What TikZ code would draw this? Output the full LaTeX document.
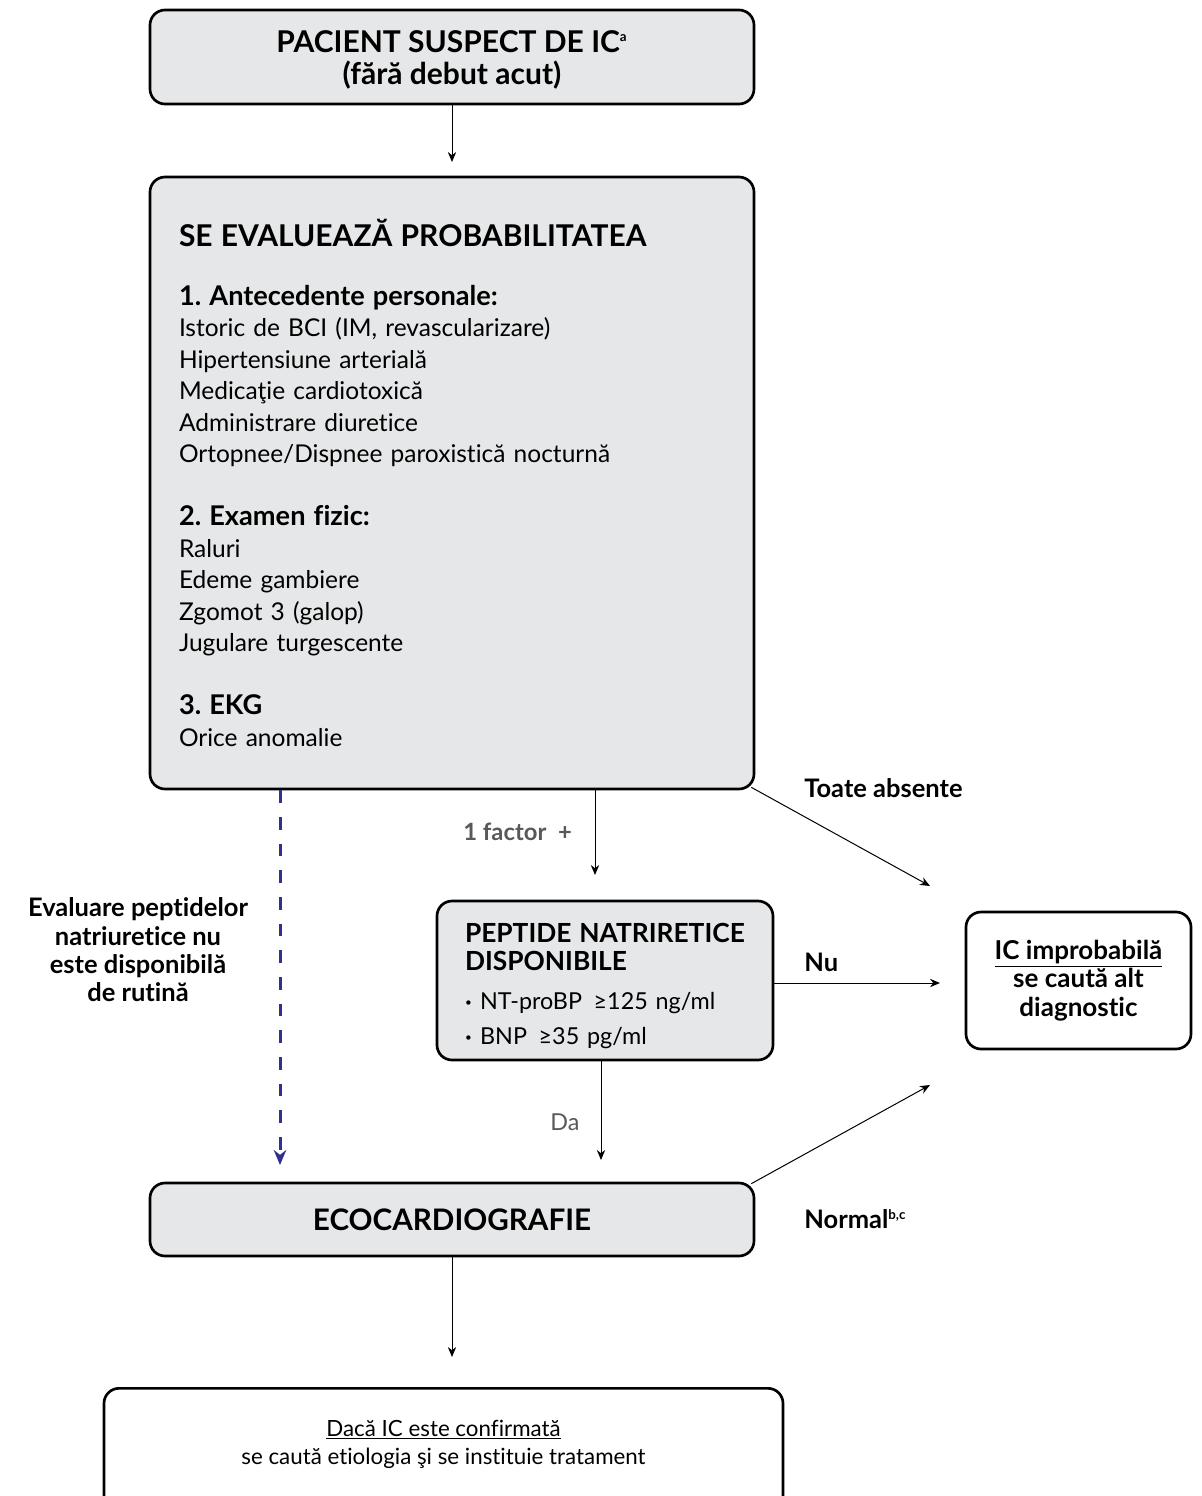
\documentclass[tikz,border=0pt]{standalone}
\usepackage{fontspec}
\setmainfont{Lato}[Ligatures={NoCommon,NoContextual}]
\usetikzlibrary{arrows.meta,positioning}
\definecolor{boxgray}{HTML}{E6E7E8}
\definecolor{navy}{HTML}{2E3192}
\definecolor{lblgray}{HTML}{58595B}
\newcommand{\smallbullet}{\raisebox{0.3ex}{\scriptsize •}\hspace{5pt}}
\tikzset{
  box/.style={draw=black, line width=1.6pt, rounded corners=9pt, align=center},
  greybox/.style={box, fill=boxgray},
  whitebox/.style={box, fill=white},
  arr/.style={-{Stealth[length=6pt,width=5pt]}, line width=0.6pt},
  lbl/.style={font=\bfseries\fontsize{15.3}{17}\selectfont, inner sep=0pt},
  bodytext/.style={font=\fontsize{14.7}{18.9}\selectfont},
}
\frenchspacing
\begin{document}
\begin{tikzpicture}[x=0.6pt,y=-0.6pt]
  \useasboundingbox (0,0) rectangle (1202,1496);
  \clip (0,0) rectangle (1202,1496);
  % boxes
  \node[greybox, minimum width=362.4pt, minimum height=56.4pt,
        font=\bfseries\fontsize{18}{19.2}\selectfont] (suspect) at (452,57)
    {\rule{0pt}{16.5pt}PACIENT SUSPECT DE IC\textsuperscript{\footnotesize a}\\(fără debut acut)};
  \node[greybox, bodytext, align=left, minimum height=367.2pt,
        text width=327.6pt, inner xsep=17.4pt] (eval) at (452,483)
    {\textbf{\fontsize{18}{19}\selectfont SE EVALUEAZĂ PROBABILITATEA}\\[16pt]
     \textbf{\fontsize{16.3}{18.9}\selectfont 1. Antecedente personale:}\\
     Istoric de BCI (IM, revascularizare)\\
     Hipertensiune arterială\\
     Medicaţie cardiotoxică\\
     Administrare diuretice\\
     Ortopnee/Dispnee paroxistică nocturnă\\[18.9pt]
     \textbf{\fontsize{16.3}{18.9}\selectfont 2. Examen fizic:}\\
     Raluri\\
     Edeme gambiere\\
     Zgomot 3 (galop)\\
     Jugulare turgescente\\[18.9pt]
     \textbf{\fontsize{16.3}{18.9}\selectfont 3. EKG}\\
     Orice anomalie};
  \node[greybox, align=left, minimum width=201.6pt, minimum height=95.4pt,
        text width=168pt, inner xsep=16.8pt, font=\fontsize{14}{17}\selectfont] (peptide) at (605,980.5)
    {\textbf{\fontsize{15.8}{17}\selectfont \rule{0pt}{18pt}PEPTIDE NATRIRETICE}\\
     \textbf{\fontsize{15.8}{17}\selectfont DISPONIBILE}\\[6.5pt]
     \smallbullet NT-proBP\, ≥125 ng/ml\\[4pt]
     \smallbullet BNP\, ≥35 pg/ml};
  \node[whitebox, minimum width=135pt, minimum height=82.2pt,
        font=\bfseries\fontsize{15.6}{17}\selectfont] (improb) at (1078.5,980.5)
    {\underline{IC improbabilă}\\se caută alt\\diagnostic};
  \node[greybox, minimum width=362.4pt, minimum height=43.8pt,
        font=\bfseries\fontsize{17.8}{19}\selectfont] (echo) at (452,1219.5)
    {ECOCARDIOGRAFIE};
  \node[whitebox, anchor=north, minimum width=407.4pt, inner ysep=19pt,
        font=\fontsize{13.4}{17}\selectfont] (confirm) at (443.5,1387)
    {\underline{Dacă IC este confirmată}\\se caută etiologia şi se instituie tratament\rule[-40pt]{0pt}{0pt}};
  % free ends of the connectors
  \coordinate (e1) at (452,162);
  \coordinate (e2) at (595,875);
  \coordinate (e3) at (930,886);
  \coordinate (e4) at (940,983);
  \coordinate (e5) at (601,1160);
  \coordinate (e6) at (280,1165);
  \coordinate (e7) at (930,1085);
  \coordinate (e8) at (452,1357);
  % connectors
  \draw[arr] (suspect.south) -- (e1);
  \draw[arr] (eval.south -| e2) -- (e2);
  \draw[arr] ([shift={(-4,-3)}]eval.south east) -- (e3);
  \draw[arr] (peptide.east |- e4) -- (e4);
  \draw[arr] (peptide.south -| e5) -- (e5);
  \draw[navy, line width=1.8pt, dash pattern=on 7.5pt off 8.5pt,
        -{Stealth[length=9pt,width=7.5pt]}] (eval.south -| e6) -- (e6);
  \draw[arr] ([shift={(-4,2)}]echo.north east) -- (e7);
  \draw[arr] (echo.south) -- (e8);
  % labels
  \node[lbl, anchor=west] (absent) at (804,788) {Toate absente};
  \node[lbl, anchor=west, text=lblgray, font=\bfseries\fontsize{14.3}{17}\selectfont] (factor) at (463,832) {1 factor\ \ +};
  \node[lbl, anchor=west] (nu) at (804,962) {Nu};
  \node[lbl, font=\fontsize{14}{17}\selectfont, text=lblgray] (da) at (565,1122) {Da};
  \node[lbl, anchor=west] (normal) at (804,1219) {Normal\textsuperscript{\footnotesize b,c}};
  \node[lbl, align=center] (nopeptide) at (138,950)
    {Evaluare peptidelor\\natriuretice nu\\este disponibilă\\de rutină};
\end{tikzpicture}
\end{document}
